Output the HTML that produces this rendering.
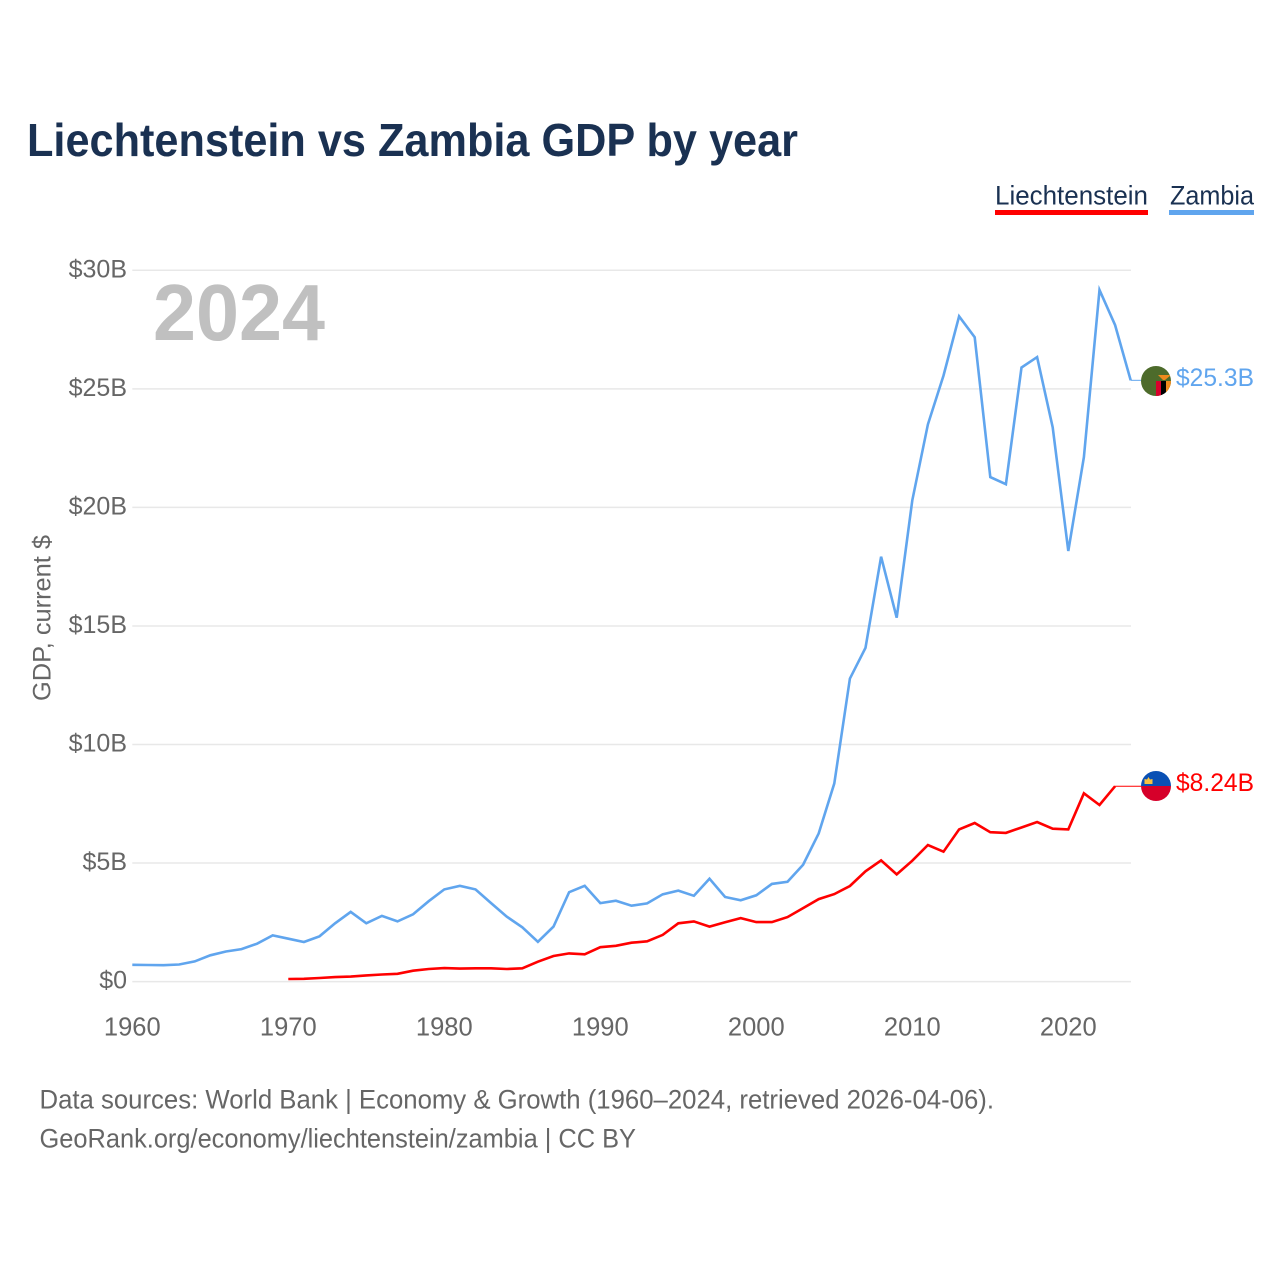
<!DOCTYPE html>
<html lang="en">
<head>
<meta charset="utf-8">
<title>Liechtenstein vs Zambia GDP by year</title>
<style>
html,body{margin:0;padding:0;background:#fff;width:1280px;height:1280px;overflow:hidden}
svg{display:block}
text{font-family:"Liberation Sans",sans-serif}
</style>
</head>
<body>
<svg id="chart" xmlns="http://www.w3.org/2000/svg" width="1280" height="1280" viewBox="0 0 1280 1280">
  <defs>
    <clipPath id="clip-zm"><circle cx="1156" cy="381" r="15"/></clipPath>
    <clipPath id="clip-li"><circle cx="1156" cy="786" r="15"/></clipPath>
  </defs>
  <rect x="0" y="0" width="1280" height="1280" fill="#fff"/>
  <text x="27" y="156" font-size="46" font-weight="700" fill="#1a3152" textLength="771" lengthAdjust="spacingAndGlyphs">Liechtenstein vs Zambia GDP by year</text>

  <g>
    <g>
      <text x="995" y="204.5" font-size="27" fill="#1a3152" textLength="153" lengthAdjust="spacingAndGlyphs">Liechtenstein</text>
      <rect x="995" y="210" width="153" height="5" fill="#ff0000"/>
    </g>
    <g>
      <text x="1170" y="204.5" font-size="27" fill="#1a3152" textLength="84" lengthAdjust="spacingAndGlyphs">Zambia</text>
      <rect x="1169" y="210" width="85" height="5" fill="#60a5ee"/>
    </g>
  </g>

  <g id="grid"></g>
  <g id="y-ticks"></g>
  <g id="x-ticks"></g>

  <text x="0" y="0" transform="translate(50.5,618) rotate(-90)" text-anchor="middle" font-size="25" fill="#666" textLength="166" lengthAdjust="spacingAndGlyphs">GDP, current $</text>
  <text x="153" y="340" font-size="80" font-weight="700" fill="#c0c0c0" textLength="172" lengthAdjust="spacingAndGlyphs">2024</text>

  <g id="series"></g>

  <g>
    <circle cx="1156" cy="381" r="15" fill="#4d6b2b"/>
    <g clip-path="url(#clip-zm)">
      <rect x="1156" y="381" width="5" height="17" fill="#d8002c"/>
      <rect x="1161" y="381" width="5" height="17" fill="#000"/>
      <rect x="1166" y="381" width="6" height="17" fill="#f08a1d"/>
      <path d="M1158 375 L1171 375 L1165 380 L1163 380 Z" fill="#f08a1d"/>
    </g>
  </g>
  <g>
    <g clip-path="url(#clip-li)">
      <rect x="1141" y="771" width="30" height="15" fill="#0a50b4"/>
      <rect x="1141" y="786" width="30" height="15" fill="#d6002a"/>
      <path d="M1144.5 779 L1147 779.5 L1148.5 777 L1150 779.5 L1152.5 779 L1152.5 784 L1144.5 784 Z" fill="#f5c243"/>
    </g>
  </g>

  <text x="1176" y="386" font-size="25" fill="#60a5ee" textLength="78" lengthAdjust="spacingAndGlyphs">$25.3B</text>
  <text x="1176" y="791" font-size="25" fill="#ff0000" textLength="78" lengthAdjust="spacingAndGlyphs">$8.24B</text>

  <text x="39.5" y="1108.5" font-size="27" fill="#666" textLength="954.5" lengthAdjust="spacingAndGlyphs">Data sources: World Bank | Economy &amp; Growth (1960–2024, retrieved 2026-04-06).</text>
  <text x="39.5" y="1147.5" font-size="27" fill="#666" textLength="596.5" lengthAdjust="spacingAndGlyphs">GeoRank.org/economy/liechtenstein/zambia | CC BY</text>
</svg>
<script>
const yTickValues = [0, 5, 10, 15, 20, 25, 30];
const yTickLabels = ["$0", "$5B", "$10B", "$15B", "$20B", "$25B", "$30B"];
const xTickYears = [1960, 1970, 1980, 1990, 2000, 2010, 2020];
const zambiaStartYear = 1960;
const zambiaGdp = [0.71,0.70,0.69,0.72,0.85,1.11,1.27,1.37,1.60,1.95,1.81,1.67,1.91,2.46,2.94,2.46,2.77,2.54,2.84,3.39,3.89,4.04,3.89,3.31,2.74,2.29,1.68,2.32,3.77,4.04,3.31,3.41,3.20,3.30,3.68,3.84,3.62,4.34,3.57,3.43,3.64,4.12,4.21,4.93,6.25,8.36,12.78,14.08,17.92,15.35,20.30,23.50,25.56,28.06,27.18,21.28,20.98,25.90,26.34,23.38,18.16,22.12,29.17,27.69,25.36];
const liechtensteinStartYear = 1970;
const liechtensteinGdp = [0.11,0.12,0.15,0.19,0.21,0.26,0.30,0.33,0.46,0.53,0.57,0.55,0.56,0.56,0.53,0.56,0.84,1.08,1.19,1.15,1.45,1.51,1.64,1.70,1.97,2.46,2.54,2.32,2.50,2.68,2.51,2.51,2.72,3.10,3.48,3.69,4.03,4.65,5.11,4.52,5.10,5.76,5.48,6.42,6.69,6.30,6.27,6.50,6.73,6.45,6.42,7.94,7.45,8.24];

const SVG_NS = "http://www.w3.org/2000/svg";
const xLeft = 132.3, pxPerYear = 15.6, baseYear = 1960, xRight = 1131;
const yZero = 981.6, pxPerUnit = 23.71;
function xScale(year) { return xLeft + (year - baseYear) * pxPerYear; }
function yScale(value) { return yZero - value * pxPerUnit; }
function make(tag, attrs) {
  const el = document.createElementNS(SVG_NS, tag);
  for (const k in attrs) el.setAttribute(k, attrs[k]);
  return el;
}
const gridGroup = document.getElementById("grid");
const yGroup = document.getElementById("y-ticks");
const xGroup = document.getElementById("x-ticks");
const seriesGroup = document.getElementById("series");

yTickValues.forEach(function (v, i) {
  const line = make("line", { x1: xLeft, x2: xRight, y1: yScale(v), y2: yScale(v), stroke: "#e8e8e8", "stroke-width": 1.5 });
  
  
  gridGroup.appendChild(line);
  const label = make("text", { x: 127, y: yScale(v) + 7, "text-anchor": "end", "font-size": 25, fill: "#666" });
  
  
  label.textContent = yTickLabels[i];
  yGroup.appendChild(label);
});

xTickYears.forEach(function (year) {
  const label = make("text", { x: xScale(year), y: 1035.5, "text-anchor": "middle", "font-size": 25.5, fill: "#666" });
  
  
  label.textContent = String(year);
  xGroup.appendChild(label);
});

function linePoints(values, startYear) {
  return values.map(function (v, i) {
    return xScale(startYear + i).toFixed(1) + "," + yScale(v).toFixed(1);
  }).join(" ");
}

const zambiaLine = make("polyline", { points: linePoints(zambiaGdp, zambiaStartYear), fill: "none", stroke: "#60a5ee", "stroke-width": 2.6, "stroke-linejoin": "miter" });


seriesGroup.appendChild(zambiaLine);

const liLine = make("polyline", { points: linePoints(liechtensteinGdp, liechtensteinStartYear), fill: "none", stroke: "#ff0000", "stroke-width": 2.6, "stroke-linejoin": "miter" });


seriesGroup.appendChild(liLine);

const zLast = zambiaGdp[zambiaGdp.length - 1];
const zConnector = make("line", { x1: xScale(zambiaStartYear + zambiaGdp.length - 1), x2: 1141, y1: yScale(zLast), y2: yScale(zLast), stroke: "#60a5ee", "stroke-width": 1 });


seriesGroup.appendChild(zConnector);

const lLast = liechtensteinGdp[liechtensteinGdp.length - 1];
const lConnector = make("line", { x1: xScale(liechtensteinStartYear + liechtensteinGdp.length - 1), x2: 1141, y1: yScale(lLast), y2: yScale(lLast), stroke: "#ff0000", "stroke-width": 1 });


seriesGroup.appendChild(lConnector);
</script>
</body>
</html>
